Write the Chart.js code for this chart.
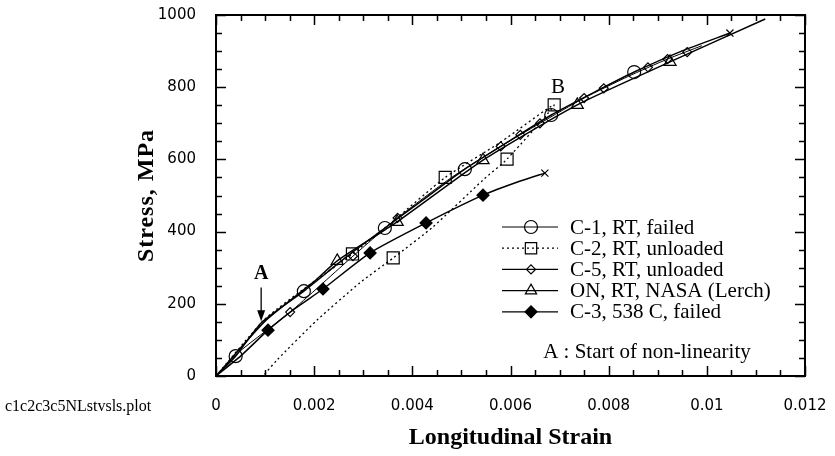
<!DOCTYPE html>
<html>
<head>
<meta charset="utf-8">
<script src="https://cdn.jsdelivr.net/npm/chart.js@4.4.1/dist/chart.umd.min.js"></script>
<style>html,body{margin:0;background:#fff}</style>
</head>
<body>
<canvas id="c" width="835" height="456"></canvas>
<script>
// Stress vs longitudinal strain
const xMajor  = [0, 0.002, 0.004, 0.006, 0.008, 0.01, 0.012];
const xLabels = ['0', '0.002', '0.004', '0.006', '0.008', '0.01', '0.012'];
const yMajor  = [0, 200, 400, 600, 800, 1000];
const yLabels = ['0', '200', '400', '600', '800', '1000'];

// C-1, RT, failed
const c1Strain = [0, 0.00039, 0.00092, 0.00179, 0.00263, 0.00344, 0.00426, 0.00507, 0.00599, 0.00683, 0.00772, 0.00852, 0.00945, 0.01047];
const c1Stress = [0, 53, 147, 235, 327, 410, 492, 573, 652, 723, 787, 842, 898, 950];
const c1MarkStrain = [0.0004, 0.00179, 0.00344, 0.00507, 0.00683, 0.00852];
const c1MarkStress = [55, 235, 410, 573, 723, 842];

// C-2, RT, unloaded (load to B, then unload)
const c2Strain = [0, 0.001, 0.002, 0.00278, 0.0036, 0.00467, 0.0058, 0.00689, 0.00593, 0.00544, 0.00442, 0.00361, 0.00293, 0.00206, 0.00124, 0.00096];
const c2Stress = [0, 158, 262, 338, 428, 550, 648, 751, 601, 543, 413, 327, 258, 155, 44, 0];
const c2MarkStrain = [0.00278, 0.00467, 0.00689, 0.00593, 0.00361];
const c2MarkStress = [338, 550, 751, 601, 327];

// C-5, RT, unloaded
const c5Strain = [0, 0.0005, 0.00151, 0.00279, 0.0037, 0.0048, 0.0058, 0.0066, 0.0075, 0.0084, 0.0092, 0.0099];
const c5Stress = [0, 70, 177, 332, 438, 550, 636, 700, 770, 830, 878, 915];
const c5MarkStrain = [0.00151, 0.00279, 0.0037, 0.0058, 0.0062, 0.0066, 0.0075, 0.0079, 0.0088, 0.0092, 0.0096];
const c5MarkStress = [177, 332, 438, 636, 668, 700, 770, 797, 855, 878, 897];

// ON, RT, NASA (Lerch)
const onStrain = [0, 0.001, 0.002, 0.00247, 0.00369, 0.00544, 0.00736, 0.00925, 0.01119];
const onStress = [0, 152, 262, 319, 427, 598, 751, 870, 989];
const onMarkStrain = [0.00247, 0.00369, 0.00544, 0.00736, 0.00925];
const onMarkStress = [319, 427, 598, 751, 870];

// C-3, 538 C, failed
const c3Strain = [0, 0.0005, 0.00106, 0.0016, 0.00218, 0.00314, 0.00428, 0.00544, 0.0062, 0.0067];
const c3Stress = [0, 55, 127, 186, 241, 341, 424, 501, 540, 562];
const c3MarkStrain = [0.00106, 0.00218, 0.00314, 0.00428, 0.00544];
const c3MarkStress = [127, 241, 341, 424, 501];

const INK = '#000';
const SERIF = "'Liberation Serif', 'Times New Roman', serif";
const SANS = "'DejaVu Sans', sans-serif";

function pts(xs, ys) { return xs.map((x, i) => ({ x: x, y: ys[i] })); }
function last(xs, ys) { return [{ x: xs[xs.length - 1], y: ys[ys.length - 1] }]; }

function curve(data, width, dash) {
  return { data: data, showLine: true, borderColor: INK, borderWidth: width, borderDash: dash || [], pointRadius: 0, tension: 0.2 };
}
function marks(data, style, r, fill) {
  return { data: data, showLine: false, pointStyle: style, pointRadius: r, pointHoverRadius: r,
    pointBorderColor: INK, pointBackgroundColor: fill, pointBorderWidth: 1.2 };
}

const LEGEND = [
  { label: 'C-1, RT, failed',       dash: [],     style: 'circle',   r: 6.5, fill: 'rgba(0,0,0,0)' },
  { label: 'C-2, RT, unloaded',     dash: [2, 3], style: 'rect',     r: 8,   fill: 'rgba(0,0,0,0)' },
  { label: 'C-5, RT, unloaded',     dash: [],     style: 'rectRot',  r: 4.5, fill: 'rgba(0,0,0,0)' },
  { label: 'ON, RT, NASA (Lerch)',  dash: [],     style: 'triangle', r: 6.5, fill: 'rgba(0,0,0,0)' },
  { label: 'C-3, 538 C, failed',    dash: [],     style: 'rectRot',  r: 6,   fill: INK },
];

// frame, inward ticks, tick labels, titles, legend and notes
const decor = {
  id: 'decor',
  afterDraw(chart) {
    const { ctx, chartArea: a, scales: { x, y } } = chart;
    ctx.save();
    ctx.strokeStyle = INK; ctx.fillStyle = INK;
    ctx.lineWidth = 2;
    ctx.strokeRect(a.left, a.top, a.right - a.left, a.bottom - a.top);

    ctx.lineWidth = 1.5;
    ctx.beginPath();
    for (let v = 0; v <= 0.012 + 1e-9; v += 0.0005) {
      const px = Math.round(x.getPixelForValue(v)) + 0.5;
      const major = Math.abs(v / 0.002 - Math.round(v / 0.002)) < 1e-6;
      const len = major ? 10 : 6;
      ctx.moveTo(px, a.bottom); ctx.lineTo(px, a.bottom - len);
      ctx.moveTo(px, a.top); ctx.lineTo(px, a.top + len);
    }
    for (let v = 0; v <= 1000; v += 50) {
      const py = Math.round(y.getPixelForValue(v)) + 0.5;
      const len = v % 200 === 0 ? 10 : 6;
      ctx.moveTo(a.left, py); ctx.lineTo(a.left + len, py);
      ctx.moveTo(a.right, py); ctx.lineTo(a.right - len, py);
    }
    ctx.stroke();

    // tick labels
    ctx.font = '15px ' + SANS;
    ctx.textBaseline = 'middle';
    ctx.textAlign = 'center';
    xMajor.forEach((v, i) => ctx.fillText(xLabels[i], x.getPixelForValue(v), 406));
    ctx.textAlign = 'right';
    yMajor.forEach((v, i) => ctx.fillText(yLabels[i], a.left - 20, y.getPixelForValue(v)));

    // axis titles
    ctx.textAlign = 'center';
    ctx.font = 'bold 24px ' + SERIF;
    ctx.fillText('Longitudinal Strain', (a.left + a.right) / 2, 438);
    ctx.save();
    ctx.translate(147, (a.top + a.bottom) / 2);
    ctx.rotate(-Math.PI / 2);
    ctx.letterSpacing = '1px';
    ctx.fillText('Stress, MPa', 0, 0);
    ctx.restore();

    // file name
    ctx.textAlign = 'left';
    ctx.font = '16px ' + SERIF;
    ctx.fillText('c1c2c3c5NLstvsls.plot', 5, 407);

    // legend
    ctx.font = '21px ' + SERIF;
    LEGEND.forEach((it, i) => {
      const ly = 227 + i * 21.2;
      ctx.lineWidth = 1.2;
      ctx.setLineDash(it.dash);
      ctx.beginPath(); ctx.moveTo(502, ly); ctx.lineTo(558, ly); ctx.stroke();
      ctx.setLineDash([]);
      ctx.fillStyle = it.fill;
      Chart.helpers.drawPoint(ctx, { pointStyle: it.style, radius: it.r, rotation: 0, borderWidth: 1.2 }, 531, ly);
      ctx.fillStyle = INK;
      ctx.fillText(it.label, 570, ly + 1);
    });

    // annotations
    const ax = x.getPixelForValue(0.00092);
    ctx.textAlign = 'center';
    ctx.font = 'bold 20px ' + SERIF;
    ctx.fillText('A', ax, y.getPixelForValue(283));
    const y0 = y.getPixelForValue(245), y1 = y.getPixelForValue(152);
    ctx.lineWidth = 1.3;
    ctx.beginPath(); ctx.moveTo(ax, y0); ctx.lineTo(ax, y1 - 10); ctx.stroke();
    ctx.beginPath(); ctx.moveTo(ax - 4, y1 - 11); ctx.lineTo(ax + 4, y1 - 11); ctx.lineTo(ax, y1); ctx.closePath(); ctx.fill();

    ctx.font = '21px ' + SERIF;
    ctx.fillText('B', x.getPixelForValue(0.00697), y.getPixelForValue(800));
    ctx.fillText('A : Start of non-linearity', x.getPixelForValue(0.00878), y.getPixelForValue(66));
    ctx.restore();
  }
};

new Chart(document.getElementById('c'), {
  type: 'scatter',
  data: {
    datasets: [
      curve(pts(c1Strain, c1Stress), 1.5),
      marks(pts(c1MarkStrain, c1MarkStress), 'circle', 6.5, 'rgba(0,0,0,0)'),
      marks(last(c1Strain, c1Stress), 'crossRot', 5, INK),
      curve(pts(c2Strain, c2Stress), 1.3, [2, 3]),
      marks(pts(c2MarkStrain, c2MarkStress), 'rect', 8.5, 'rgba(0,0,0,0)'),
      curve(pts(c5Strain, c5Stress), 1),
      marks(pts(c5MarkStrain, c5MarkStress), 'rectRot', 4.5, 'rgba(0,0,0,0)'),
      curve(pts(onStrain, onStress), 1.5),
      marks(pts(onMarkStrain, onMarkStress), 'triangle', 7, 'rgba(0,0,0,0)'),
      curve(pts(c3Strain, c3Stress), 1.5),
      marks(pts(c3MarkStrain, c3MarkStress), 'rectRot', 6, INK),
      marks(last(c3Strain, c3Stress), 'crossRot', 5, INK),
    ],
  },
  options: {
    responsive: false, animation: false, devicePixelRatio: 1,
    layout: { padding: { top: 15, right: 30, left: 0, bottom: 0 } },
    plugins: { legend: { display: false }, tooltip: { enabled: false } },
    scales: {
      x: {
        type: 'linear', min: 0, max: 0.012,
        grid: { display: false, drawTicks: false }, border: { display: false },
        ticks: { display: false },
        afterFit: s => { s.height = 80; },
      },
      y: {
        type: 'linear', min: 0, max: 1000,
        grid: { display: false, drawTicks: false }, border: { display: false },
        ticks: { display: false },
        afterFit: s => { s.width = 216; },
      },
    },
  },
  plugins: [decor],
});
</script>
</body>
</html>
